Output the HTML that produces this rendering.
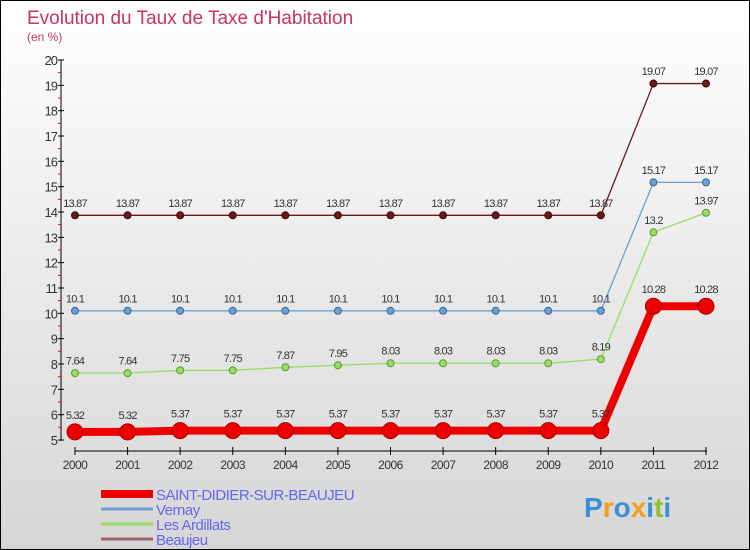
<!DOCTYPE html>
<html><head><meta charset="utf-8"><style>
body{margin:0}
#c{width:748px;height:548px;border:1px solid #000;background:linear-gradient(#ffffff,#d6d6d6);position:relative;font-family:"Liberation Sans",sans-serif;overflow:hidden}
svg{position:absolute;left:0;top:0}
</style></head><body>
<div id="c">
<svg id="s" width="748" height="548"></svg>
</div>
<script>
const years=[2000,2001,2002,2003,2004,2005,2006,2007,2008,2009,2010,2011,2012];
const saint=[5.32,5.32,5.37,5.37,5.37,5.37,5.37,5.37,5.37,5.37,5.37,10.28,10.28];
const vernay=[10.1,10.1,10.1,10.1,10.1,10.1,10.1,10.1,10.1,10.1,10.1,15.17,15.17];
const ardillats=[7.64,7.64,7.75,7.75,7.87,7.95,8.03,8.03,8.03,8.03,8.19,13.2,13.97];
const beaujeu=[13.87,13.87,13.87,13.87,13.87,13.87,13.87,13.87,13.87,13.87,13.87,19.07,19.07];
const yTicks=[5,6,7,8,9,10,11,12,13,14,15,16,17,18,19,20];
const legendNames=["SAINT-DIDIER-SUR-BEAUJEU","Vernay","Les Ardillats","Beaujeu"];
const NS="http://www.w3.org/2000/svg";
const s=document.getElementById('s');
function X(i){return 74+i*(705-74)/(years.length-1);}
function Y(v){return 439-(v-5)*(439-59)/15;}
function el(t,a,p){const e=document.createElementNS(NS,t);for(const k in a)e.setAttribute(k,a[k]);(p||s).appendChild(e);return e;}
function txt(x,y,str,a){const e=el('text',Object.assign({x:x,y:y},a));e.textContent=str;return e;}
let t=txt(26,23,"Evolution du Taux de Taxe d'Habitation",{fill:'#c8336a','font-size':19});

t=txt(26,40,"(en %)",{fill:'#c8336a','font-size':12});

// axes
let a=el('line',{x1:60,y1:59,x2:60,y2:440,stroke:'#000','stroke-width':1});

a=el('line',{x1:74,y1:450,x2:706,y2:450,stroke:'#000','stroke-width':1});

yTicks.forEach(v=>{
  el('line',{x1:57,x2:63,y1:Y(v),y2:Y(v),stroke:'#000'});
  if(v<20)el('line',{x1:57,x2:60,y1:Y(v+0.5),y2:Y(v+0.5),stroke:'#f00'});
  const l=txt(56,Y(v)+5,String(v),{'text-anchor':'end','font-size':13,fill:'#333','letter-spacing':'-1'});
  
});
years.forEach((yr,i)=>{
  el('line',{x1:X(i),x2:X(i),y1:446,y2:454,stroke:'#000'});
  const l=txt(X(i),468,String(yr),{'text-anchor':'middle','font-size':12,fill:'#333','letter-spacing':'-0.5'});
  
});
function series(vals,color,dark,w,r,name){
  const g=el('g',{});
  
  const pts=vals.map((v,i)=>X(i)+','+Y(v)).join(' ');
  el('polyline',{points:pts,fill:'none',stroke:color,'stroke-width':w},g);
  vals.forEach((v,i)=>{
    const c=el('circle',{cx:X(i),cy:Y(v),r:r,fill:color,stroke:dark,'stroke-width':1},g);
    
    const l=txt(X(i),Y(v)-r-5,String(v),{'text-anchor':'middle','font-size':11,fill:'#333','letter-spacing':'-0.8'},g);
    
  });
}
series(beaujeu,'#6b1a1a','#3a0a0a',1.3,3.5,'series-beaujeu');
series(vernay,'#6fa0cc','#2f6aa0',1.3,3.5,'series-vernay');
series(ardillats,'#99dd66','#5a9a30',1.3,3.5,'series-ardillats');
series(saint,'#ee0000','#aa0000',8,8,'series-saint-didier');
// legend
const lc=['#ee0000','#6fa0cc','#99dd66','#996666'],lw=[8,3,3,3];
legendNames.forEach((n,i)=>{
  const y=493+i*15;
  const g=el('g',{});
  el('line',{x1:100,x2:152,y1:y,y2:y,stroke:lc[i],'stroke-width':lw[i]},g);
  txt(155,y+6,n,{'font-size':15,fill:'#6666ee','letter-spacing':'-0.5'},g);
});
const lg=txt(583,516,'',{'font-size':28,'font-weight':'bold',});
[['P','#3b8fd6'],['r','#f0a020'],['o','#3b8fd6'],['x','#f0a020'],['i','#3b8fd6'],['t','#90c030'],['i','#3b8fd6']].forEach(p=>{const sp=el('tspan',{fill:p[1]},lg);sp.textContent=p[0];});
</script>
</body></html>
